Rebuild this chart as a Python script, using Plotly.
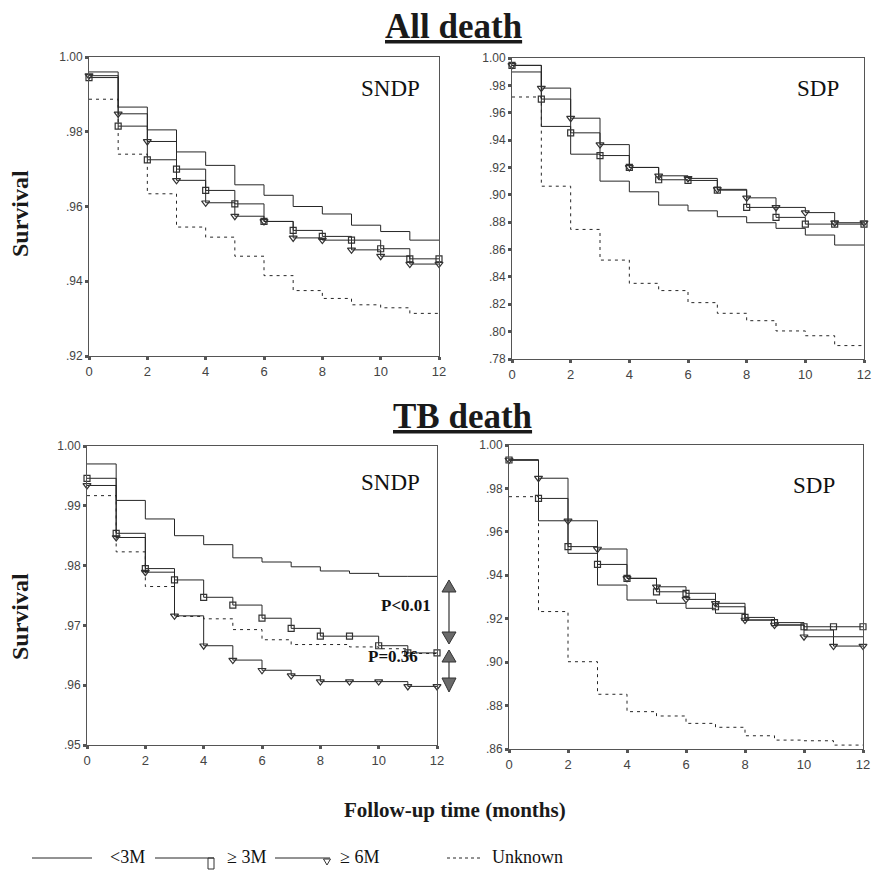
import plotly.graph_objects as go

W, H = 873, 881

months = list(range(13))
x_tick_vals = [0, 2, 4, 6, 8, 10, 12]
x_tick_text = ["0", "2", "4", "6", "8", "10", "12"]

# Survival levels over each month interval [k, k+1), k = 0..11
# Panel 1: All death, SNDP
p1_lt3 = [0.996, 0.9866, 0.9805, 0.9746, 0.971, 0.9658, 0.963, 0.960, 0.958, 0.955, 0.9533, 0.951]
p1_ge3 = [0.9945, 0.9815, 0.9725, 0.970, 0.9643, 0.9607, 0.956, 0.9536, 0.952, 0.951, 0.9487, 0.946]
p1_ge6 = [0.995, 0.9848, 0.9774, 0.967, 0.961, 0.9574, 0.956, 0.9516, 0.951, 0.9484, 0.9467, 0.9446]
p1_unk = [0.9887, 0.974, 0.9634, 0.9545, 0.9518, 0.9467, 0.9415, 0.9375, 0.9354, 0.9337, 0.9329, 0.9314]

# Panel 2: All death, SDP
p2_lt3 = [0.9898, 0.950, 0.9297, 0.910, 0.9022, 0.8925, 0.8883, 0.884, 0.8796, 0.8755, 0.8706, 0.8633]
p2_ge3 = [0.9946, 0.970, 0.9453, 0.9287, 0.920, 0.911, 0.9105, 0.9034, 0.8908, 0.8835, 0.8786, 0.8786]
p2_ge6 = [0.9946, 0.978, 0.956, 0.9367, 0.920, 0.9139, 0.912, 0.904, 0.8978, 0.8908, 0.887, 0.8796]
p2_unk = [0.9715, 0.9063, 0.8747, 0.8523, 0.8353, 0.830, 0.8212, 0.8134, 0.808, 0.8005, 0.797, 0.7898]

# Panel 3: TB death, SNDP
p3_lt3 = [0.997, 0.9909, 0.9878, 0.985, 0.9835, 0.9813, 0.9806, 0.9798, 0.9791, 0.9787, 0.9782, 0.9782]
p3_ge3 = [0.9946, 0.9854, 0.9795, 0.9776, 0.9747, 0.9734, 0.9712, 0.9695, 0.9682, 0.9682, 0.9666, 0.9654]
p3_ge6 = [0.9934, 0.9847, 0.9789, 0.9716, 0.9666, 0.9642, 0.9625, 0.9616, 0.9606, 0.9606, 0.9606, 0.9598]
p3_unk = [0.9917, 0.9823, 0.9765, 0.9715, 0.9711, 0.9693, 0.9676, 0.9668, 0.9668, 0.9664, 0.9661, 0.9653]

# Panel 4: TB death, SDP
p4_lt3 = [0.9931, 0.9651, 0.9501, 0.9355, 0.9286, 0.9271, 0.9248, 0.9225, 0.9194, 0.9171, 0.9148, 0.9117]
p4_ge3 = [0.9931, 0.9754, 0.9532, 0.9450, 0.9386, 0.9324, 0.9317, 0.9255, 0.9206, 0.9182, 0.9163, 0.9163]
p4_ge6 = [0.9931, 0.9847, 0.9651, 0.9521, 0.9386, 0.9347, 0.9289, 0.9271, 0.9194, 0.9171, 0.9117, 0.9074]
p4_unk = [0.9762, 0.9233, 0.9002, 0.8852, 0.8772, 0.8752, 0.8718, 0.8700, 0.8661, 0.8641, 0.8638, 0.8618]

# y tick labels per panel
p1_yticks = [0.92, 0.94, 0.96, 0.98, 1.00]
p1_ytext = [".92", ".94", ".96", ".98", "1.00"]
p2_yticks = [0.78, 0.80, 0.82, 0.84, 0.86, 0.88, 0.90, 0.92, 0.94, 0.96, 0.98, 1.00]
p2_ytext = [".78", ".80", ".82", ".84", ".86", ".88", ".90", ".92", ".94", ".96", ".98", "1.00"]
p3_yticks = [0.95, 0.96, 0.97, 0.98, 0.99, 1.00]
p3_ytext = [".95", ".96", ".97", ".98", ".99", "1.00"]
p4_yticks = [0.86, 0.88, 0.90, 0.92, 0.94, 0.96, 0.98, 1.00]
p4_ytext = [".86", ".88", ".90", ".92", ".94", ".96", ".98", "1.00"]

series_names = ["<3M", "\u2265 3M", "\u2265 6M", "Unknown"]
panel_labels = ["SNDP", "SDP", "SNDP", "SDP"]
section_titles = ["All death", "TB death"]
p_values = ["P<0.01", "P=0.36"]


def X(px):
    return px / W


def Y(py):
    return 1 - py / H


LINE = "#262626"
AX = "#555555"
SERIF = "Liberation Serif, Times New Roman, serif"
SANS = "Liberation Sans, Arial, sans-serif"

panels = [
    dict(data=[p1_lt3, p1_ge3, p1_ge6, p1_unk], box=(89, 439, 57, 356), yr=[0.92, 1.0],
         yt=(p1_yticks, p1_ytext), label=(390, 88)),
    dict(data=[p2_lt3, p2_ge3, p2_ge6, p2_unk], box=(512, 864, 58, 359), yr=[0.78, 1.0],
         yt=(p2_yticks, p2_ytext), label=(818, 88)),
    dict(data=[p3_lt3, p3_ge3, p3_ge6, p3_unk], box=(87, 437, 446, 745), yr=[0.95, 1.0],
         yt=(p3_yticks, p3_ytext), label=(390, 482)),
    dict(data=[p4_lt3, p4_ge3, p4_ge6, p4_unk], box=(509, 863, 445, 749), yr=[0.86, 1.0],
         yt=(p4_yticks, p4_ytext), label=(814, 485)),
]

fig = go.Figure()
layout = dict(
    width=W, height=H, margin=dict(l=0, r=0, t=0, b=0, autoexpand=False),
    paper_bgcolor="white", plot_bgcolor="white", showlegend=False,
)
annotations = []
shapes = []

styles = [
    dict(mode="lines", line=dict(color=LINE, width=1)),
    dict(mode="lines+markers", line=dict(color=LINE, width=1),
         marker=dict(symbol="square-open", size=6, color="#333333", line=dict(width=1.2))),
    dict(mode="lines+markers", line=dict(color=LINE, width=1),
         marker=dict(symbol="triangle-down-open", size=7, color="#333333", line=dict(width=1.2))),
    dict(mode="lines", line=dict(color=LINE, width=1, dash="3px,4px")),
]

for i, p in enumerate(panels, start=1):
    xa = "xaxis" if i == 1 else f"xaxis{i}"
    ya = "yaxis" if i == 1 else f"yaxis{i}"
    xr = "x" if i == 1 else f"x{i}"
    yr = "y" if i == 1 else f"y{i}"
    l, r, t, b = p["box"]
    for s, (vals, st) in enumerate(zip(p["data"], styles)):
        fig.add_trace(go.Scatter(
            x=months, y=vals + [vals[-1]], xaxis=xr, yaxis=yr,
            line_shape="hv", name=series_names[s], cliponaxis=False, **st))
    layout[xa] = dict(
        domain=[X(l), X(r)], range=[0, 12], anchor=yr,
        tickvals=x_tick_vals, ticktext=x_tick_text,
        ticks="outside", ticklen=3, tickwidth=3, tickcolor=AX,
        showline=True, linecolor=AX, linewidth=1, mirror=True,
        showgrid=False, zeroline=False,
        tickfont=dict(family=SANS, size=13, color="#444444"),
    )
    layout[ya] = dict(
        domain=[Y(b), Y(t)], range=p["yr"], anchor=xr,
        tickvals=p["yt"][0], ticktext=p["yt"][1],
        ticks="outside", ticklen=3, tickwidth=3, tickcolor=AX,
        showline=True, linecolor=AX, linewidth=1, mirror=True,
        showgrid=False, zeroline=False,
        tickfont=dict(family=SANS, size=12, color="#444444"),
    )
    lx, ly = p["label"]
    annotations.append(dict(
        x=X(lx), y=Y(ly), xref="paper", yref="paper", showarrow=False,
        text=panel_labels[i - 1], font=dict(family=SERIF, size=23, color="#111111"),
        xanchor="center", yanchor="middle"))

# Section titles (underlined)
for txt, (cx, cy) in zip(section_titles, [(453, 27), (462, 416)]):
    annotations.append(dict(
        x=X(cx), y=Y(cy), xref="paper", yref="paper", showarrow=False,
        text=f"<u><b>{txt}</b></u>", font=dict(family=SERIF, size=35, color="#1a1a1a"),
        xanchor="center", yanchor="middle"))

# Y axis titles
for cy in [214, 617]:
    annotations.append(dict(
        x=X(20), y=Y(cy), xref="paper", yref="paper", showarrow=False,
        text="<b>Survival</b>", textangle=-90,
        font=dict(family=SERIF, size=24, color="#1a1a1a"),
        xanchor="center", yanchor="middle"))

# X axis title
annotations.append(dict(
    x=X(455), y=Y(810), xref="paper", yref="paper", showarrow=False,
    text="<b>Follow-up time (months)</b>",
    font=dict(family=SERIF, size=21, color="#1a1a1a"),
    xanchor="center", yanchor="middle"))

# P-value labels
for txt, (cx, cy) in zip(p_values, [(406, 605), (393, 656)]):
    annotations.append(dict(
        x=X(cx), y=Y(cy), xref="paper", yref="paper", showarrow=False,
        text=f"<b>{txt}</b>", font=dict(family=SERIF, size=17, color="#111111"),
        xanchor="center", yanchor="middle"))


def tri(cx, cy, w, h, up):
    if up:
        pts = [(cx, cy - h / 2), (cx + w / 2, cy + h / 2), (cx - w / 2, cy + h / 2)]
    else:
        pts = [(cx, cy + h / 2), (cx + w / 2, cy - h / 2), (cx - w / 2, cy - h / 2)]
    path = "M " + " L ".join(f"{X(a):.5f},{Y(b):.5f}" for a, b in pts) + " Z"
    return dict(type="path", path=path, xref="paper", yref="paper",
                fillcolor="#6a6a6a", line=dict(color="#333333", width=1))


# Significance arrows beside panel 3
ax_x = 449
shapes.append(dict(type="line", xref="paper", yref="paper", x0=X(ax_x), x1=X(ax_x),
                   y0=Y(592), y1=Y(632), line=dict(color="#333333", width=1.2)))
shapes.append(dict(type="line", xref="paper", yref="paper", x0=X(ax_x), x1=X(ax_x),
                   y0=Y(662), y1=Y(678), line=dict(color="#333333", width=1.2)))
shapes.append(tri(ax_x, 586, 14, 12, True))
shapes.append(tri(ax_x, 638, 14, 12, False))
shapes.append(tri(ax_x, 656, 14, 12, True))
shapes.append(tri(ax_x, 685, 14, 14, False))

# Legend
leg_y = 858
leg_items = [
    (32, 92, 108, None, False),
    (155, 214, 225, "sq", False),
    (275, 330, 338, "tri", False),
    (447, 482, 490, None, True),
]
for (x0, x1, tx, mk, dashed), name in zip(leg_items, series_names):
    shapes.append(dict(type="line", xref="paper", yref="paper", x0=X(x0), x1=X(x1),
                       y0=Y(leg_y), y1=Y(leg_y),
                       line=dict(color=LINE, width=1, dash="3px,3px" if dashed else "solid")))
    if mk == "sq":
        shapes.append(dict(type="rect", xref="paper", yref="paper",
                           x0=X(x1 - 6), x1=X(x1), y0=Y(leg_y + 11), y1=Y(leg_y),
                           line=dict(color="#333333", width=1), fillcolor="rgba(0,0,0,0)"))
    if mk == "tri":
        t = tri(x1 - 3, leg_y + 4, 7, 6, False)
        t["fillcolor"] = "rgba(0,0,0,0)"
        shapes.append(t)
    annotations.append(dict(
        x=X(tx), y=Y(leg_y - 1), xref="paper", yref="paper", showarrow=False,
        text=name, font=dict(family=SERIF, size=18, color="#111111"),
        xanchor="left", yanchor="middle"))

layout["annotations"] = annotations
layout["shapes"] = shapes
fig.update_layout(**layout)

# Remove the browser's default page margin so the 873x881 figure fills the window exactly.
page_fix = (
    "document.body.style.margin='0';"
    "document.body.style.overflow='hidden';"
    "document.documentElement.style.overflow='hidden';"
)
fig.write_html("out.html", post_script=page_fix, config={"displayModeBar": False})
